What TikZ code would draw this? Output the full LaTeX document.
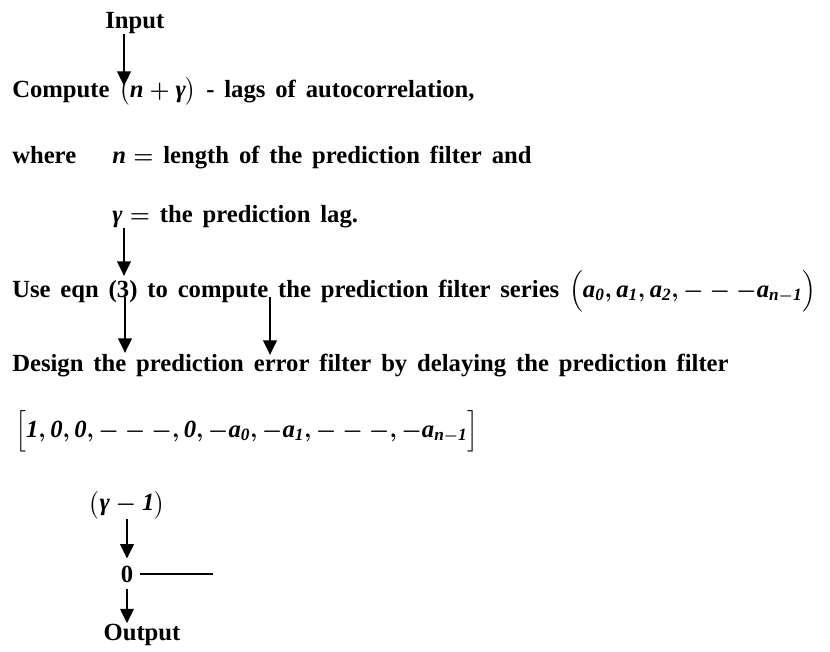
\documentclass[tikz,border=0pt]{standalone}
\usepackage{fontspec}
\setmainfont{Liberation Serif}[WordSpace=1.6]
\usepackage{amsmath}
\usepackage{tikz}
\usetikzlibrary{arrows.meta}

\newcommand{\eqn}[1]{{\boldmath$#1$}}
\newcommand{\mv}[1]{\textit{#1}}

\begin{document}
\begin{tikzpicture}[
    x=0.75pt, y=-0.75pt,
    font=\fontsize{18.5}{22}\selectfont\bfseries,
    >={Triangle[length=11pt,width=10pt]},
]
\useasboundingbox (0,0) rectangle (830,651);

% ── Styles ──
\tikzset{
    textline/.style={anchor=base west, inner sep=0pt},
    flow/.style={->, line width=2.2pt},
}

% ── Text lines ──
\node[anchor=base west, inner sep=0pt] (input) at (105,28) {Input};
\node[textline] (compute) at (12,97)
    {Compute \eqn{\bigl(\mv{n}+\mv{γ}\bigr)} - lags of autocorrelation,};
\node[textline] (where) at (12,163) {where};
\node[textline] (ndef) at (112,163) {\eqn{\mv{n}=} length of the prediction filter and};
\node[textline] (gdef) at (112,222) {\eqn{\mv{γ}=} the prediction lag.};
\node[textline] (useeqn) at (12,297)
    {Use eqn (3) to compute the prediction filter series
     \eqn{\Bigl(\mv{a}_{\mv{0}},\mv{a}_{\mv{1}},\mv{a}_{\mv{2}},---\mv{a}_{\mv{n}-\mv{1}}\Bigr)}};
\node[textline] (design) at (12,371)
    {Design the prediction error filter by delaying the prediction filter};
\node[textline] (vec) at (15,437)
    {\eqn{\Bigl[\mv{1},\mv{0},\mv{0},---,\mv{0},-\mv{a}_{\mv{0}},-\mv{a}_{\mv{1}},---,-\mv{a}_{\mv{n}-\mv{1}}\Bigr]}};

% ── Delay and output ──
\node[inner sep=0pt] (lag) at (127,505) {\eqn{\bigl(\mv{γ}-\mv{1}\bigr)}};
\node[anchor=base, inner sep=5pt] (zero) at (127,582) {0};
\node[anchor=base, inner sep=0pt] (output) at (142,640) {Output};

% ── Arrow tips ──
\coordinate (t1) at (124,86);
\coordinate (t2) at (124,276);
\coordinate (t3) at (125,353);
\coordinate (t4) at (270,355);
\coordinate (zend) at (213,573);

% ── Flow arrows ──
\draw[flow] (input.south -| t1) -- (t1);
\draw[flow] (gdef.south -| t2) -- (t2);
\draw[flow] (useeqn.base -| t3) -- (t3);
\draw[flow] (useeqn.base -| t4) -- (t4);
\draw[flow] (lag.south) -- (zero.north);
\draw[flow] (zero.south) -- (zero.south |- output.north);
\draw[line width=1.6pt] (zero.east) -- (zero.east -| zend);

\end{tikzpicture}
\end{document}
